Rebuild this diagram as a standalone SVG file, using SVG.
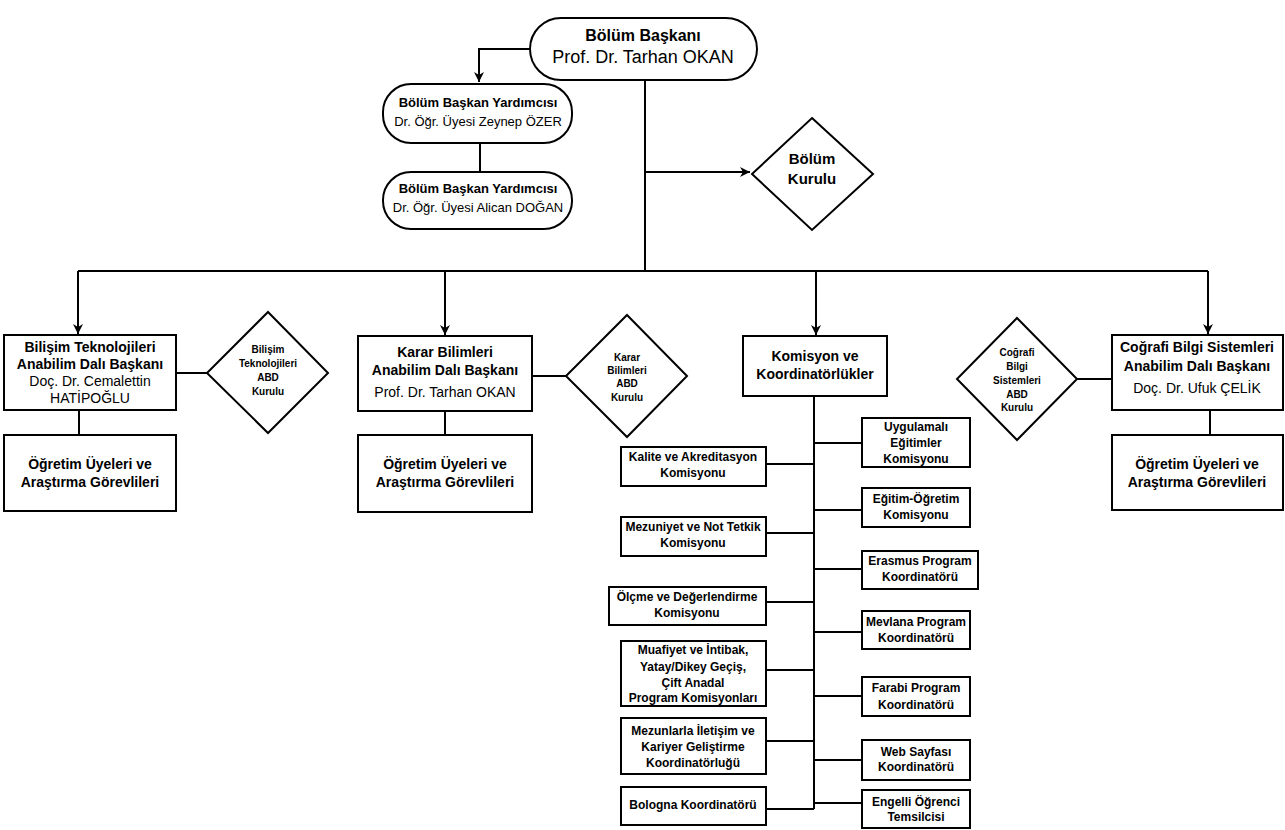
<svg xmlns="http://www.w3.org/2000/svg" width="1285" height="830" viewBox="0 0 1285 830">
<style>
.box{fill:#fff;stroke:#000;stroke-width:2}
.ln{fill:none;stroke:#000;stroke-width:2}
text{font-family:"Liberation Sans",Arial,sans-serif;fill:#000;text-anchor:middle;dominant-baseline:central}
.b{font-weight:bold}
.t16{font-size:16px}
.t18{font-size:18px}
.t13{font-size:13px}
.t14{font-size:14px}
.t15{font-size:15px}
.t12{font-size:12px}
.t10{font-size:10px}
</style>
<defs>
<marker id="ar" viewBox="0 0 10 10" refX="10" refY="5" markerWidth="5" markerHeight="5" orient="auto" markerUnits="strokeWidth">
<path d="M0,0 L10,5 L0,10 L3,5 z" fill="#000"/>
</marker>
</defs>
<rect width="1285" height="830" fill="#fff"/>
<g id="connectors">
<path class="ln" d="M530,49 H479 V82" marker-end="url(#ar)"/>
<path class="ln" d="M480,143 V172"/>
<path class="ln" d="M645,80 V271"/>
<path class="ln" d="M645,172 H750" marker-end="url(#ar)"/>
<path class="ln" d="M78,271 H1208"/>
<path class="ln" d="M78,271 V334" marker-end="url(#ar)"/>
<path class="ln" d="M445,271 V335" marker-end="url(#ar)"/>
<path class="ln" d="M816,271 V335" marker-end="url(#ar)"/>
<path class="ln" d="M1208,271 V334" marker-end="url(#ar)"/>
<path class="ln" d="M176,373 H207"/>
<path class="ln" d="M79,410 V435"/>
<path class="ln" d="M532,376 H566"/>
<path class="ln" d="M445,411 V435"/>
<path class="ln" d="M1112,379 H1077"/>
<path class="ln" d="M1210,410 V435"/>
<path class="ln" d="M814,396 V809"/>
<path class="ln" d="M766,464 H814"/>
<path class="ln" d="M766,533 H814"/>
<path class="ln" d="M766,602 H814"/>
<path class="ln" d="M766,670 H814"/>
<path class="ln" d="M766,741 H814"/>
<path class="ln" d="M766,809 H814"/>
<path class="ln" d="M814,443 H862"/>
<path class="ln" d="M814,510 H862"/>
<path class="ln" d="M814,569 H862"/>
<path class="ln" d="M814,632 H862"/>
<path class="ln" d="M814,696 H862"/>
<path class="ln" d="M814,760 H862"/>
<path class="ln" d="M814,803 H862"/>
</g>
<g id="bolum-baskani">
<rect class="box" x="530" y="18" width="227" height="62" rx="31"/>
<text class="b t16" x="643" y="35">Bölüm Başkanı</text>
<text class="t18" x="643" y="57">Prof. Dr. Tarhan OKAN</text>
</g>
<g id="yardimci1">
<rect class="box" x="383" y="84" width="189" height="59" rx="28"/>
<text class="b t13" x="478" y="102">Bölüm Başkan Yardımcısı</text>
<text class="t13" x="478" y="121">Dr. Öğr. Üyesi Zeynep ÖZER</text>
</g>
<g id="yardimci2">
<rect class="box" x="383" y="172" width="189" height="57" rx="28"/>
<text class="b t13" x="478" y="188">Bölüm Başkan Yardımcısı</text>
<text class="t13" x="478" y="207">Dr. Öğr. Üyesi Alican DOĞAN</text>
</g>
<g id="bolum-kurulu">
<path class="box" d="M812,118 L873,174 L812,230 L752,174 Z"/>
<text class="b t15" x="812" y="158">Bölüm</text>
<text class="b t15" x="812" y="178">Kurulu</text>
</g>
<g id="bt-baskan">
<rect class="box" x="4" y="335" width="172" height="75"/>
<text class="b t14" x="90" y="347">Bilişim Teknolojileri</text>
<text class="b t14" x="90" y="364">Anabilim Dalı Başkanı</text>
<text class="t14" x="90" y="381">Doç. Dr. Cemalettin</text>
<text class="t14" x="90" y="398">HATİPOĞLU</text>
</g>
<g id="bt-kurulu">
<path class="box" d="M268,312 L328,373 L268,433 L207,373 Z"/>
<text class="b t10" x="268" y="349">Bilişim</text>
<text class="b t10" x="268" y="363">Teknolojileri</text>
<text class="b t10" x="268" y="377">ABD</text>
<text class="b t10" x="268" y="391">Kurulu</text>
</g>
<g id="bt-uyeler">
<rect class="box" x="4" y="435" width="172" height="76"/>
<text class="b t14" x="90" y="464">Öğretim Üyeleri ve</text>
<text class="b t14" x="90" y="482">Araştırma Görevlileri</text>
</g>
<g id="kb-baskan">
<rect class="box" x="358" y="336" width="174" height="75"/>
<text class="b t14" x="445" y="352">Karar Bilimleri</text>
<text class="b t14" x="445" y="370">Anabilim Dalı Başkanı</text>
<text class="t14" x="445" y="392">Prof. Dr. Tarhan OKAN</text>
</g>
<g id="kb-kurulu">
<path class="box" d="M627,315 L687,376 L627,437 L566,376 Z"/>
<text class="b t10" x="627" y="357">Karar</text>
<text class="b t10" x="627" y="370">Bilimleri</text>
<text class="b t10" x="627" y="383">ABD</text>
<text class="b t10" x="627" y="397">Kurulu</text>
</g>
<g id="kb-uyeler">
<rect class="box" x="358" y="435" width="174" height="77"/>
<text class="b t14" x="445" y="464">Öğretim Üyeleri ve</text>
<text class="b t14" x="445" y="482">Araştırma Görevlileri</text>
</g>
<g id="komisyon">
<rect class="box" x="743" y="336" width="144" height="60"/>
<text class="b t14" x="815" y="356">Komisyon ve</text>
<text class="b t14" x="815" y="374">Koordinatörlükler</text>
</g>
<g id="cbs-baskan">
<rect class="box" x="1112" y="335" width="171" height="75"/>
<text class="b t14" x="1197" y="347">Coğrafi Bilgi Sistemleri</text>
<text class="b t14" x="1197" y="366">Anabilim Dalı Başkanı</text>
<text class="t14" x="1197" y="388">Doç. Dr. Ufuk ÇELİK</text>
</g>
<g id="cbs-kurulu">
<path class="box" d="M1017,318 L1077,379 L1017,440 L957,379 Z"/>
<text class="b t10" x="1017" y="352">Coğrafi</text>
<text class="b t10" x="1017" y="366">Bilgi</text>
<text class="b t10" x="1017" y="380">Sistemleri</text>
<text class="b t10" x="1017" y="394">ABD</text>
<text class="b t10" x="1017" y="407">Kurulu</text>
</g>
<g id="cbs-uyeler">
<rect class="box" x="1112" y="435" width="171" height="75"/>
<text class="b t14" x="1197" y="464">Öğretim Üyeleri ve</text>
<text class="b t14" x="1197" y="482">Araştırma Görevlileri</text>
</g>
<g id="kalite">
<rect class="box" x="621" y="447" width="145" height="39"/>
<text class="b t12" x="693" y="457">Kalite ve Akreditasyon</text>
<text class="b t12" x="693" y="473">Komisyonu</text>
</g>
<g id="mezuniyet">
<rect class="box" x="621" y="517" width="145" height="39"/>
<text class="b t12" x="693" y="527">Mezuniyet ve Not Tetkik</text>
<text class="b t12" x="693" y="543">Komisyonu</text>
</g>
<g id="olcme">
<rect class="box" x="609" y="587" width="157" height="38"/>
<text class="b t12" x="687" y="597">Ölçme ve Değerlendirme</text>
<text class="b t12" x="687" y="613">Komisyonu</text>
</g>
<g id="muafiyet">
<rect class="box" x="621" y="641" width="145" height="65"/>
<text class="b t12" x="693" y="650">Muafiyet ve İntibak,</text>
<text class="b t12" x="693" y="667">Yatay/Dikey Geçiş,</text>
<text class="b t12" x="693" y="683">Çift Anadal</text>
<text class="b t12" x="693" y="698">Program Komisyonları</text>
</g>
<g id="mezunlarla">
<rect class="box" x="621" y="718" width="145" height="56"/>
<text class="b t12" x="693" y="731">Mezunlarla İletişim ve</text>
<text class="b t12" x="693" y="747">Kariyer Geliştirme</text>
<text class="b t12" x="693" y="763">Koordinatörluğü</text>
</g>
<g id="bologna">
<rect class="box" x="621" y="787" width="145" height="38"/>
<text class="b t12" x="693" y="805">Bologna Koordinatörü</text>
</g>
<g id="uygulamali">
<rect class="box" x="862" y="418" width="108" height="49"/>
<text class="b t12" x="916" y="427">Uygulamalı</text>
<text class="b t12" x="916" y="443">Eğitimler</text>
<text class="b t12" x="916" y="459">Komisyonu</text>
</g>
<g id="egitim-ogretim">
<rect class="box" x="862" y="488" width="108" height="39"/>
<text class="b t12" x="916" y="499">Eğitim-Öğretim</text>
<text class="b t12" x="916" y="515">Komisyonu</text>
</g>
<g id="erasmus">
<rect class="box" x="862" y="551" width="116" height="38"/>
<text class="b t12" x="920" y="561">Erasmus Program</text>
<text class="b t12" x="920" y="577">Koordinatörü</text>
</g>
<g id="mevlana">
<rect class="box" x="862" y="611" width="108" height="38"/>
<text class="b t12" x="916" y="622">Mevlana Program</text>
<text class="b t12" x="916" y="638">Koordinatörü</text>
</g>
<g id="farabi">
<rect class="box" x="862" y="677" width="108" height="39"/>
<text class="b t12" x="916" y="688">Farabi Program</text>
<text class="b t12" x="916" y="705">Koordinatörü</text>
</g>
<g id="web">
<rect class="box" x="862" y="740" width="108" height="40"/>
<text class="b t12" x="916" y="752">Web Sayfası</text>
<text class="b t12" x="916" y="767">Koordinatörü</text>
</g>
<g id="engelli">
<rect class="box" x="862" y="790" width="108" height="38"/>
<text class="b t12" x="916" y="802">Engelli Öğrenci</text>
<text class="b t12" x="916" y="817">Temsilcisi</text>
</g>
</svg>
